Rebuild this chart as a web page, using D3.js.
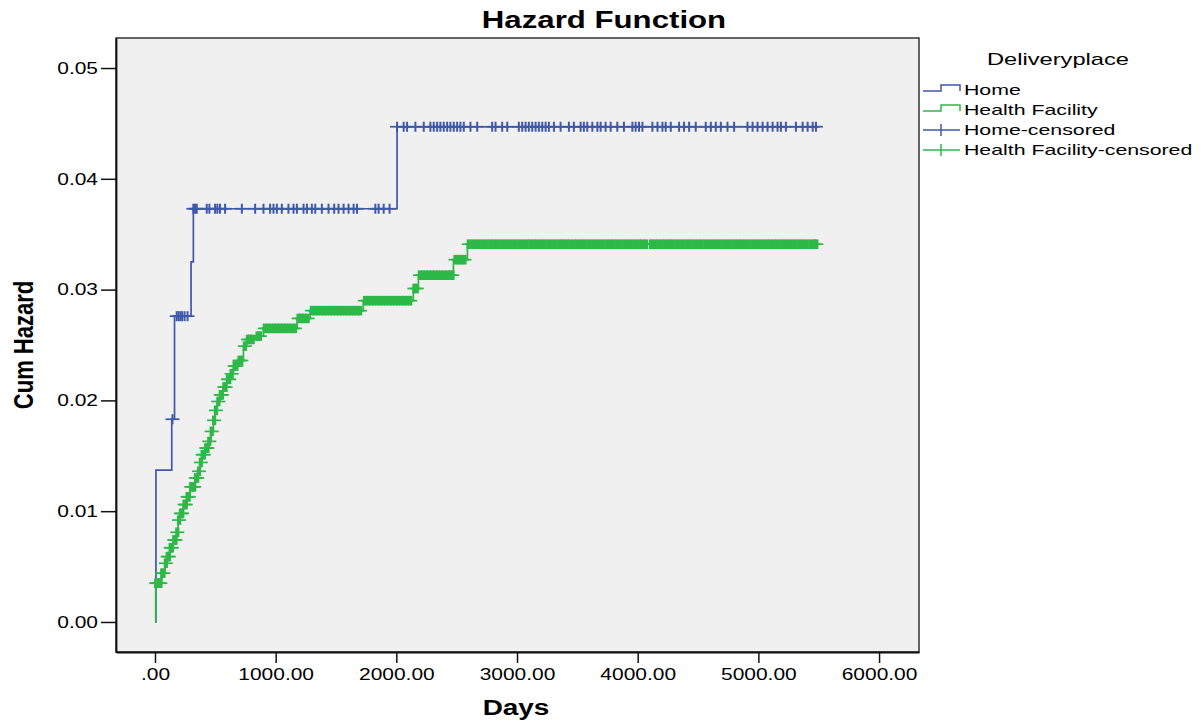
<!DOCTYPE html>
<html lang="en">
<head>
<meta charset="utf-8">
<title>Hazard Function</title>
<script src="https://d3js.org/d3.v7.min.js"></script>
<style>
    body { margin: 0; background: #fff; }
    text { font-family: "Liberation Sans", Arial, sans-serif; fill: #000; }
</style>
</head>
<body>
<script>
// Data
const groups = ["Home", "Health Facility"];

// Home: step points (days, cum hazard) and censored days
const homeEventDays = [0, 8, 139, 162, 299, 318, 2006];
const homeEventHaz = [0, 0.0137, 0.0183, 0.0276, 0.0325, 0.0373, 0.0447];
const homeEndDay = 5494;
const homeCensored = [145, 180, 195, 210, 225, 245, 270,
    318, 332, 346, 429, 451, 498, 517, 539, 581, 720, 830, 899, 954, 982, 1010, 1051,
    1106, 1148, 1176, 1231, 1259, 1300, 1328, 1383, 1438, 1485, 1521, 1563, 1604, 1646,
    1674, 1826, 1853, 1895, 1944,
    2006, 2061, 2089, 2158, 2227, 2282, 2310, 2338, 2365, 2393, 2421, 2448, 2476, 2504,
    2531, 2559, 2614, 2670, 2794, 2822, 2877, 2919, 3015, 3043, 3071, 3098, 3126, 3154,
    3181, 3209, 3237, 3264, 3306, 3361, 3430, 3471, 3527, 3554, 3582, 3624, 3666, 3693,
    3734, 3776, 3831, 3886, 3956, 3983, 4011, 4039, 4122, 4164, 4205, 4232, 4274, 4343,
    4384, 4426, 4481, 4564, 4606, 4647, 4689, 4744, 4799, 4910, 4952, 4993, 5035, 5076,
    5118, 5159, 5187, 5228, 5311, 5367, 5408, 5450, 5477];

// Health Facility
const hfEventDays = [0, 6, 56, 83, 97, 124, 152, 180, 191, 207, 235, 263, 290, 332, 359,
    373, 387, 415, 442, 465, 484, 498, 517, 539, 564, 595, 622, 650, 691, 733, 761, 830,
    899, 1178, 1286, 1726, 2141, 2183, 2473, 2589];
const hfEventHaz = [0, 0.0035, 0.0044, 0.0053, 0.0059, 0.0067, 0.0074, 0.0081, 0.0092,
    0.0098, 0.0106, 0.0113, 0.0122, 0.0130, 0.0136, 0.0144, 0.0151, 0.0157, 0.0163,
    0.0172, 0.0182, 0.0191, 0.0199, 0.0205, 0.0212, 0.0219, 0.0224, 0.0231, 0.0236,
    0.0249, 0.0255, 0.0258, 0.0265, 0.0274, 0.0281, 0.0290, 0.0301, 0.0313, 0.0327, 0.0341];
const hfEndDay = 5480;
const hfCensored = [10, 20, 35, 45, 60, 70, 90, 105, 115, 130, 140, 160, 170, 185, 200,
    215, 225, 245, 255, 270, 280, 300, 315, 325, 340, 350, 365, 380, 395, 405, 425, 435,
    450, 470, 490, 505, 525, 545, 555, 575, 585, 605, 615, 635, 660, 675, 700, 715, 745,
    770, 790, 810, 850, 870,
    910, 935, 960, 985, 1010, 1035, 1060, 1085, 1110, 1135, 1160, 1190, 1215, 1240, 1265,
    1300, 1325, 1350, 1375, 1400, 1425, 1450, 1475, 1500, 1525, 1550, 1575, 1600, 1625,
    1650, 1675, 1700, 1740, 1765, 1790, 1815, 1840, 1865, 1890, 1915, 1940, 1965, 1990,
    2015, 2040, 2065, 2090, 2115, 2150, 2170, 2195, 2220, 2245, 2270, 2295, 2320, 2345,
    2370, 2395, 2420, 2445, 2465, 2490, 2515, 2540, 2565,
    2600, 2630, 2660, 2690, 2720, 2750, 2780, 2810, 2840, 2870, 2900, 2930, 2960, 2990,
    3020, 3050, 3080, 3110, 3140, 3170, 3200, 3230, 3260, 3290, 3320, 3350, 3380, 3410,
    3440, 3470, 3500, 3530, 3560, 3590, 3620, 3650, 3680, 3710, 3740, 3770, 3800, 3830,
    3860, 3890, 3920, 3950, 3980, 4010, 4040, 4070, 4110, 4140, 4170, 4200, 4230, 4260,
    4290, 4320, 4350, 4380, 4410, 4440, 4470, 4500, 4530, 4560, 4590, 4620, 4650, 4680,
    4710, 4740, 4770, 4800, 4830, 4860, 4890, 4920, 4950, 4980, 5010, 5040, 5070, 5100,
    5130, 5160, 5190, 5220, 5250, 5280, 5310, 5340, 5370, 5400, 5430, 5460, 5480];

// axis ticks
const xTickVals = [0, 1000, 2000, 3000, 4000, 5000, 6000];
const xTickLabels = [".00", "1000.00", "2000.00", "3000.00", "4000.00", "5000.00", "6000.00"];
const yTickVals = [0, 0.01, 0.02, 0.03, 0.04, 0.05];
const yTickLabels = ["0.00", "0.01", "0.02", "0.03", "0.04", "0.05"];

const legendLabels = ["Home", "Health Facility", "Home-censored", "Health Facility-censored"];

// layout
const w = 1204, h = 726;
const pLeft = 116, pRight = 919, pTop = 38, pBottom = 652;
const sx = 1.27; // the picture's text is stretched sideways
const blue = "#3e58ac", green = "#2eb848";

const xScale = d3.scaleLinear().domain([-323, 6331]).range([pLeft, pRight]);
const yScale = d3.scaleLinear().domain([-0.00271, 0.05271]).range([pBottom, pTop]);

const svg = d3.select("body").append("svg")
    .attr("width", w)
    .attr("height", h);

svg.append("rect")
    .attr("width", w).attr("height", h).attr("fill", "#fff");

// plot background
svg.append("rect")
    .attr("x", pLeft).attr("y", pTop)
    .attr("width", pRight - pLeft).attr("height", pBottom - pTop)
    .attr("fill", "#f0f0f0");

//step line
const stepLine = d3.line()
    .x(d => xScale(d[0]))
    .y(d => yScale(d[1]))
    .curve(d3.curveStepAfter);

function drawGroup(days, haz, endDay, censored, color, tickWidth, tickHalf) {
    const pts = days.map((d, i) => [d, haz[i]]);
    pts.push([endDay, haz[haz.length - 1]]);

    svg.append("path")
        .attr("d", stepLine(pts))
        .attr("fill", "none")
        .attr("stroke", color)
        .attr("stroke-width", 1.7);

    // censored "+" marks sit on the curve level at that day
    const marks = svg.append("g").attr("stroke", color);
    censored.forEach(c => {
        const k = d3.bisectRight(days, c) - 1;
        const cx = xScale(c), cy = yScale(haz[k]);
        marks.append("line")
            .attr("x1", cx).attr("x2", cx)
            .attr("y1", cy - tickHalf).attr("y2", cy + tickHalf)
            .attr("stroke-width", tickWidth);
        marks.append("line")
            .attr("x1", cx - 7).attr("x2", cx + 7)
            .attr("y1", cy).attr("y2", cy)
            .attr("stroke-width", 1.7);
    });
}

drawGroup(homeEventDays, homeEventHaz, homeEndDay, homeCensored, blue, 2, 5);
drawGroup(hfEventDays, hfEventHaz, hfEndDay, hfCensored, green, 4.2, 4.8);

// frame
svg.append("rect")
    .attr("x", pLeft).attr("y", pTop)
    .attr("width", pRight - pLeft).attr("height", pBottom - pTop)
    .attr("fill", "none")
    .attr("stroke", "#333")
    .attr("stroke-width", 1.5);

//left axis
const leftAxis = d3.axisLeft(yScale)
    .tickValues(yTickVals)
    .tickFormat((d, i) => yTickLabels[i])
    .tickSize(15)
    .tickSizeOuter(0);

const gy = svg.append("g")
    .attr("transform", "translate(" + pLeft + ",0)")
    .call(leftAxis);
gy.attr("font-family", null).attr("font-size", null);
gy.select(".domain").attr("stroke", "#111").attr("stroke-width", 1.8);
gy.selectAll(".tick line").attr("stroke", "#111").attr("stroke-width", 1.5);
gy.selectAll(".tick text")
    .attr("font-size", 16.5)
    .attr("x", -18 / sx)
    .attr("transform", `scale(${sx},1)`)
    .attr("fill", "#111");

//bottom axis
const bottomAxis = d3.axisBottom(xScale)
    .tickValues(xTickVals)
    .tickFormat((d, i) => xTickLabels[i])
    .tickSize(11)
    .tickSizeOuter(0);

const gx = svg.append("g")
    .attr("transform", "translate(0," + pBottom + ")")
    .call(bottomAxis);
gx.attr("font-family", null).attr("font-size", null);
gx.select(".domain").attr("stroke", "#111").attr("stroke-width", 1.8);
gx.selectAll(".tick line").attr("stroke", "#111").attr("stroke-width", 1.5);
gx.selectAll(".tick text")
    .attr("font-size", 16.5)
    .attr("y", 16)
    .attr("transform", `scale(${sx},1)`)
    .attr("fill", "#111");

// titles
svg.append("text")
    .attr("transform", `translate(604,28) scale(1.3,1)`)
    .attr("text-anchor", "middle")
    .attr("font-size", 24)
    .attr("font-weight", "bold")
    .text("Hazard Function");

svg.append("text")
    .attr("transform", `translate(516,715) scale(${sx},1)`)
    .attr("text-anchor", "middle")
    .attr("font-size", 22)
    .attr("font-weight", "bold")
    .text("Days");

svg.append("text")
    .attr("transform", `translate(33,345) scale(${sx},1) rotate(-90)`)
    .attr("text-anchor", "middle")
    .attr("font-size", 22)
    .attr("font-weight", "bold")
    .text("Cum Hazard");

// legend
const lg = svg.append("g");
lg.append("text")
    .attr("transform", `translate(1058,65) scale(1.48,1)`)
    .attr("text-anchor", "middle")
    .attr("font-size", 16)
    .text("Deliveryplace");

const rowY = [90, 110, 130, 150];
const rowColor = [blue, green, blue, green];
legendLabels.forEach((lab, i) => {
    const y = rowY[i];
    if (i < 2) {
        lg.append("path")
            .attr("d", `M923,${y + 1}H941V${y - 5}H960V${y + 1}`)
            .attr("fill", "none")
            .attr("stroke", rowColor[i])
            .attr("stroke-width", 1.5);
    } else {
        lg.append("line")
            .attr("x1", 923).attr("x2", 960).attr("y1", y).attr("y2", y)
            .attr("stroke", rowColor[i]).attr("stroke-width", 1.5);
        lg.append("line")
            .attr("x1", 941).attr("x2", 941).attr("y1", y - 6).attr("y2", y + 6)
            .attr("stroke", rowColor[i]).attr("stroke-width", 1.5);
    }
    lg.append("text")
        .attr("transform", `translate(964,${y + 5}) scale(1.42,1)`)
        .attr("font-size", 15)
        .text(lab);
});
</script>
</body>
</html>
